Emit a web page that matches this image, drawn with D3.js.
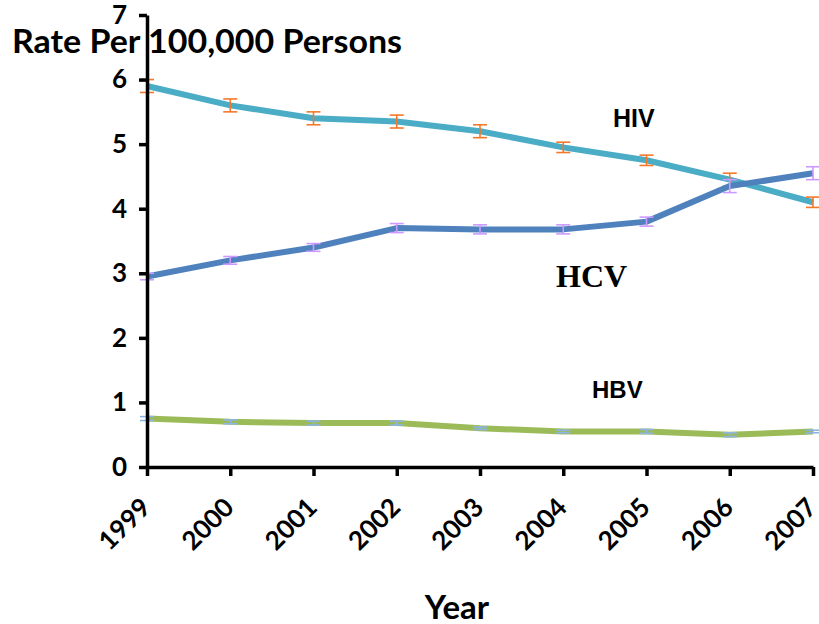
<!DOCTYPE html>
<html>
<head>
<meta charset="utf-8">
<script src="https://cdn.jsdelivr.net/npm/d3@7"></script>
<style>
  body { margin: 0; background: #fff; }
  svg { display: block; }
</style>
</head>
<body>
<script>
var years = [1999, 2000, 2001, 2002, 2003, 2004, 2005, 2006, 2007];
var hiv = [5.9, 5.6, 5.4, 5.35, 5.2, 4.95, 4.75, 4.45, 4.1];
var hivErr = [0.1, 0.1, 0.1, 0.1, 0.1, 0.08, 0.08, 0.1, 0.08];
var hcv = [2.95, 3.2, 3.4, 3.7, 3.68, 3.68, 3.8, 4.35, 4.55];
var hcvErr = [0.05, 0.06, 0.06, 0.07, 0.07, 0.07, 0.07, 0.1, 0.1];
var hbv = [0.75, 0.7, 0.68, 0.68, 0.6, 0.55, 0.55, 0.5, 0.55];
var hbvErr = [0.03, 0.03, 0.03, 0.03, 0.02, 0.02, 0.03, 0.03, 0.02];
var yTicks = [0, 1, 2, 3, 4, 5, 6, 7];

var width = 819, height = 624;
var font = "Lato, 'Open Sans', sans-serif";

var svg = d3.select("body").append("svg")
    .attr("width", width)
    .attr("height", height);

var x = d3.scalePoint().domain(years).range([147, 813]);
var y = d3.scaleLinear().domain([0, 7]).range([467, 15]);

var series = [
  {name: "HIV", values: hiv, err: hivErr, color: "#4bacc6", errColor: "#f4782a"},
  {name: "HCV", values: hcv, err: hcvErr, color: "#4f81bd", errColor: "#cc99ff"},
  {name: "HBV", values: hbv, err: hbvErr, color: "#9bbb59", errColor: "#8db4e2"}
];

var line = d3.line()
    .x(function(d) { return x(d.year); })
    .y(function(d) { return y(d.v); });

series.forEach(function(s) {
  var pts = years.map(function(yr, i) { return {year: yr, v: s.values[i], e: s.err[i]}; });

  svg.append("path")
      .datum(pts)
      .attr("fill", "none")
      .attr("stroke", s.color)
      .attr("stroke-width", 6)
      .attr("stroke-linejoin", "round")
      .attr("d", line);

  var eb = svg.append("g").selectAll("g").data(pts).enter().append("g")
      .attr("stroke", s.errColor)
      .attr("stroke-width", 1.6);
  eb.append("line")
      .attr("x1", function(d) { return x(d.year); })
      .attr("x2", function(d) { return x(d.year); })
      .attr("y1", function(d) { return y(d.v - d.e); })
      .attr("y2", function(d) { return y(d.v + d.e); });
  eb.append("line")
      .attr("x1", function(d) { return x(d.year) - 7; })
      .attr("x2", function(d) { return x(d.year) + 7; })
      .attr("y1", function(d) { return y(d.v + d.e); })
      .attr("y2", function(d) { return y(d.v + d.e); });
  eb.append("line")
      .attr("x1", function(d) { return x(d.year) - 7; })
      .attr("x2", function(d) { return x(d.year) + 7; })
      .attr("y1", function(d) { return y(d.v - d.e); })
      .attr("y2", function(d) { return y(d.v - d.e); });
});

// axes
var yAxis = svg.append("g")
    .attr("transform", "translate(147,0)")
    .call(d3.axisLeft(y).tickValues(yTicks).tickFormat(d3.format("d")).tickSize(8).tickSizeOuter(0));
yAxis.select(".domain").attr("stroke", "#000").attr("stroke-width", 3.5);
yAxis.selectAll(".tick line").attr("stroke", "#000").attr("stroke-width", 3.5);
yAxis.selectAll(".tick text")
    .attr("x", -20)
    .style("font-family", font)
    .style("font-weight", "bold")
    .style("font-size", "26px")
    .attr("fill", "#000");

var xAxis = svg.append("g")
    .attr("transform", "translate(0,467)")
    .call(d3.axisBottom(x).tickSize(9).tickSizeOuter(0));
xAxis.select(".domain").attr("stroke", "#000").attr("stroke-width", 3.5);
xAxis.selectAll(".tick line").attr("stroke", "#000").attr("stroke-width", 3.5);
xAxis.selectAll(".tick text")
    .attr("transform", "translate(-23,57) rotate(-45)")
    .attr("x", 0)
    .attr("y", 0)
    .attr("dy", "0.35em")
    .style("text-anchor", "middle")
    .style("font-family", font)
    .style("font-weight", "bold")
    .style("font-size", "26px")
    .attr("fill", "#000");

// titles
svg.append("text")
    .attr("x", 12)
    .attr("y", 53)
    .attr("textLength", 390)
    .attr("lengthAdjust", "spacingAndGlyphs")
    .style("font-family", font)
    .style("font-weight", "bold")
    .style("font-size", "32px")
    .text("Rate Per 100,000 Persons");

svg.append("text")
    .attr("x", 457)
    .attr("y", 619)
    .attr("text-anchor", "middle")
    .style("font-family", font)
    .style("font-weight", "bold")
    .style("font-size", "33px")
    .text("Year");

// series labels
svg.append("text")
    .attr("x", 613).attr("y", 127)
    .style("font-family", "'Liberation Sans', Arial, sans-serif")
    .style("font-weight", "bold").style("font-size", "25px")
    .text("HIV");
svg.append("text")
    .attr("x", 556).attr("y", 287)
    .style("font-family", "'Liberation Serif', 'Times New Roman', serif")
    .style("font-weight", "bold").style("font-size", "32px")
    .text("HCV");
svg.append("text")
    .attr("x", 592).attr("y", 398)
    .style("font-family", "'Liberation Sans', Arial, sans-serif")
    .style("font-weight", "bold").style("font-size", "24px")
    .text("HBV");
</script>
</body>
</html>
